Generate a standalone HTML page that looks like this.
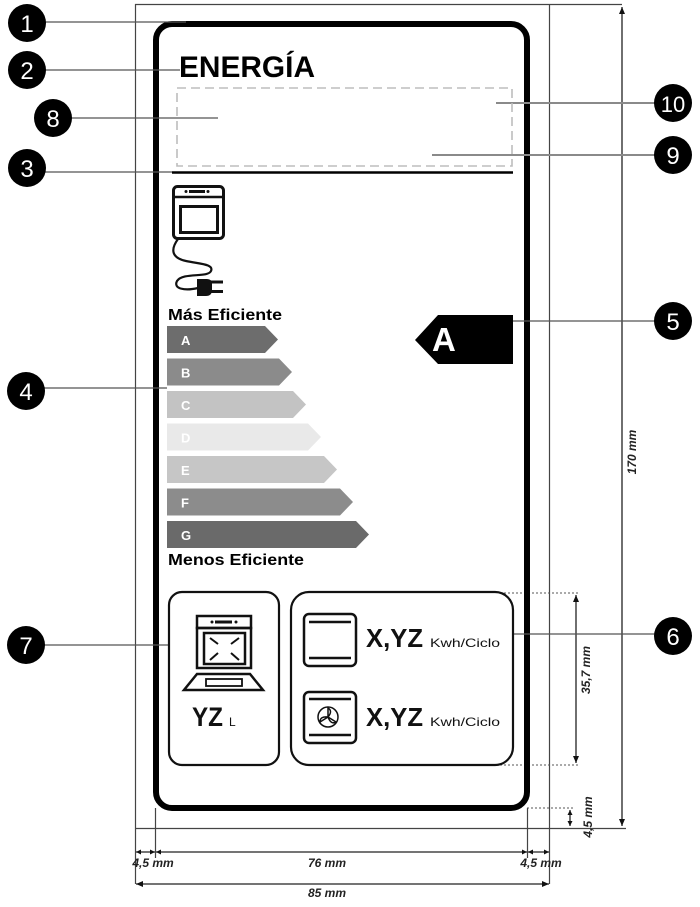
<!DOCTYPE html>
<html>
<head>
<meta charset="utf-8">
<style>
html,body{margin:0;padding:0;background:#fff;}
svg{display:block;}
</style>
</head>
<body>
<svg width="700" height="907" viewBox="0 0 700 907" xmlns="http://www.w3.org/2000/svg" font-family="'Liberation Sans', sans-serif">
<defs>
<marker id="ar" markerWidth="8" markerHeight="8" refX="7" refY="4" orient="auto-start-reverse" markerUnits="userSpaceOnUse">
<path d="M0,1 L7,4 L0,7 Z" fill="#111"/>
</marker>
<marker id="ars" markerWidth="6" markerHeight="6" refX="5" refY="3" orient="auto-start-reverse" markerUnits="userSpaceOnUse">
<path d="M0,0.5 L5,3 L0,5.5 Z" fill="#111"/>
</marker>
</defs>

<!-- outer thin frame / dimension lines -->
<g stroke="#444" stroke-width="1.2" fill="none">
<line x1="135" y1="4.5" x2="622" y2="4.5"/>
<line x1="135.5" y1="4" x2="135.5" y2="884"/>
<line x1="549.5" y1="4" x2="549.5" y2="884"/>
<line x1="135" y1="828.5" x2="626" y2="828.5"/>
<line x1="155.5" y1="808" x2="155.5" y2="858"/>
<line x1="527.5" y1="808" x2="527.5" y2="858"/>
</g>

<!-- 170 mm -->
<line x1="622" y1="7" x2="622" y2="826" stroke="#222" stroke-width="1.3" marker-start="url(#ar)" marker-end="url(#ar)"/>
<text transform="translate(636,452) rotate(-90)" text-anchor="middle" font-size="12" font-style="italic" font-weight="bold" fill="#222">170 mm</text>

<!-- 35,7 mm -->
<g stroke="#555" stroke-width="1" stroke-dasharray="2 2">
<line x1="500" y1="593" x2="580" y2="593"/>
<line x1="500" y1="765" x2="580" y2="765"/>
<line x1="527" y1="808" x2="574" y2="808"/>
</g>
<line x1="576" y1="595" x2="576" y2="763" stroke="#222" stroke-width="1.3" marker-start="url(#ar)" marker-end="url(#ar)"/>
<text transform="translate(590,670) rotate(-90)" text-anchor="middle" font-size="12" font-style="italic" font-weight="bold" fill="#222">35,7 mm</text>

<!-- 4,5 mm vertical -->
<line x1="570" y1="810" x2="570" y2="826" stroke="#222" stroke-width="1.3" marker-start="url(#ars)" marker-end="url(#ars)"/>
<text transform="translate(592,817) rotate(-90)" text-anchor="middle" font-size="12" font-style="italic" font-weight="bold" fill="#222">4,5 mm</text>

<!-- bottom dimensions -->
<g stroke="#222" stroke-width="1.3">
<line x1="136" y1="852" x2="155" y2="852" marker-start="url(#ars)" marker-end="url(#ars)"/>
<line x1="156" y1="852" x2="527" y2="852" marker-start="url(#ars)" marker-end="url(#ars)"/>
<line x1="528" y1="852" x2="549" y2="852" marker-start="url(#ars)" marker-end="url(#ars)"/>
<line x1="136" y1="884" x2="549" y2="884" marker-start="url(#ar)" marker-end="url(#ar)"/>
</g>
<g font-size="12" font-style="italic" font-weight="bold" fill="#222" text-anchor="middle">
<text x="153" y="867">4,5 mm</text>
<text x="327" y="867">76 mm</text>
<text x="541" y="867">4,5 mm</text>
<text x="327" y="897">85 mm</text>
</g>

<!-- main thick label frame -->
<rect x="156" y="24" width="371" height="784" rx="16" ry="16" fill="none" stroke="#000" stroke-width="6"/>

<!-- leader lines -->
<g stroke="#555" stroke-width="1.3">
<line x1="44" y1="22" x2="186" y2="22"/>
<line x1="44" y1="70" x2="180" y2="70"/>
<line x1="70" y1="118" x2="218" y2="118"/>
<line x1="44" y1="172" x2="172" y2="172"/>
<line x1="44" y1="388" x2="167" y2="388"/>
<line x1="44" y1="645" x2="169" y2="645"/>
<line x1="513" y1="321" x2="655" y2="321"/>
<line x1="513" y1="634" x2="655" y2="634"/>
</g>
<g stroke="#8a8a8a" stroke-width="2">
<line x1="496" y1="103" x2="655" y2="103"/>
<line x1="432" y1="155" x2="655" y2="155"/>
</g>

<!-- ENERGIA -->
<text x="179" y="77" font-size="30" font-weight="bold" fill="#000" textLength="136" lengthAdjust="spacingAndGlyphs">ENERGÍA</text>

<!-- dashed box -->
<rect x="177" y="88" width="335" height="78" fill="none" stroke="#bdbdbd" stroke-width="1.6" stroke-dasharray="9 5"/>
<!-- separator -->
<line x1="172" y1="172.5" x2="513" y2="172.5" stroke="#000" stroke-width="2.5"/>

<!-- oven with plug icon -->
<g fill="none" stroke="#111" stroke-width="3">
<rect x="173.5" y="186.5" width="50" height="52" rx="4"/>
<line x1="173.5" y1="197" x2="223.5" y2="197" stroke-width="2.5"/>
<rect x="180.5" y="206.5" width="37" height="26"/>
<path d="M178,239 C170,250 172,258 186,261 C200,264 214,264 211,271 C208,278 183,272 177,281 C173,289 185,291 198,288" stroke-width="2.2"/>
</g>
<g fill="#111">
<rect x="189" y="190" width="16" height="3"/>
<circle cx="186" cy="191.5" r="1.5"/>
<circle cx="208" cy="191.5" r="1.5"/>
<path d="M197,279 L207,279 Q212,279 212,284 L212,290 Q212,296 206,296 L197,296 Z"/>
<rect x="210" y="280.5" width="13" height="3"/>
<rect x="210" y="290" width="13" height="3"/>
</g>

<!-- efficiency scale -->
<text x="168" y="320" font-size="16" font-weight="bold" fill="#000" textLength="114" lengthAdjust="spacingAndGlyphs">Más Eficiente</text>
<g>
<polygon points="167,326 265,326 278,339.5 265,353 167,353" fill="#6d6d6d"/>
<polygon points="167,358.5 279,358.5 292,372 279,385.5 167,385.5" fill="#8b8b8b"/>
<polygon points="167,391 293,391 306,404.5 293,418 167,418" fill="#c3c3c3"/>
<polygon points="167,423.5 308,423.5 321,437 308,450.5 167,450.5" fill="#e9e9e9"/>
<polygon points="167,456 324,456 337,469.5 324,483 167,483" fill="#c6c6c6"/>
<polygon points="167,488.5 340,488.5 353,502 340,515.5 167,515.5" fill="#8c8c8c"/>
<polygon points="167,521 356,521 369,534.5 356,548 167,548" fill="#6a6a6a"/>
</g>
<g font-size="13" font-weight="bold" fill="#fff">
<text x="181" y="345">A</text>
<text x="181" y="377.5">B</text>
<text x="181" y="410">C</text>
<text x="181" y="442.5">D</text>
<text x="181" y="475">E</text>
<text x="181" y="507.5">F</text>
<text x="181" y="540">G</text>
</g>
<text x="168" y="565" font-size="16" font-weight="bold" fill="#000" textLength="136" lengthAdjust="spacingAndGlyphs">Menos Eficiente</text>

<!-- A indicator -->
<polygon points="415,340 438,315 513,315 513,364 438,364" fill="#000"/>
<text x="432" y="351" font-size="33" font-weight="bold" fill="#fff">A</text>

<!-- box 7 -->
<rect x="169" y="592" width="110" height="173" rx="13" fill="none" stroke="#111" stroke-width="2.2"/>
<g fill="none" stroke="#111" stroke-width="2.5">
<rect x="197" y="616" width="54" height="12"/>
<rect x="197" y="628" width="54" height="40"/>
<rect x="204" y="633" width="41" height="31"/>
<polygon points="184,690 263,690 250,674 197,674"/>
<rect x="206" y="679" width="36" height="7" stroke-width="1.8"/>
</g>
<g stroke="#111" stroke-width="2">
<line x1="210" y1="638" x2="218" y2="644"/>
<line x1="239" y1="638" x2="231" y2="644"/>
<line x1="210" y1="660" x2="218" y2="653"/>
<line x1="239" y1="660" x2="231" y2="653"/>
</g>
<g fill="#111">
<circle cx="212" cy="622" r="1.5"/>
<rect x="215" y="620.5" width="17" height="3"/>
<circle cx="236" cy="622" r="1.5"/>
</g>
<text x="192" y="726" font-size="27" font-weight="bold" fill="#111" textLength="31" lengthAdjust="spacingAndGlyphs">YZ</text>
<text x="229" y="726" font-size="12" fill="#111">L</text>

<!-- box 6 -->
<rect x="291" y="592" width="222" height="173" rx="18" fill="none" stroke="#111" stroke-width="2.2"/>
<g fill="none" stroke="#111" stroke-width="2.5">
<rect x="304" y="614" width="52" height="52" rx="5"/>
<line x1="309" y1="622" x2="351" y2="622"/>
<line x1="309" y1="658" x2="351" y2="658"/>
<rect x="304" y="692" width="52" height="51" rx="5"/>
<line x1="309" y1="699" x2="351" y2="699"/>
<line x1="309" y1="735" x2="351" y2="735"/>
</g>
<g fill="none" stroke="#111" stroke-width="1.5">
<circle cx="328" cy="717" r="10"/>
<path d="M328,717 L328,708 Q333,711 328,717"/>
<path d="M328,717 L320,722 Q320,716 328,717"/>
<path d="M328,717 L336,722 Q331,725 328,717"/>
</g>
<g fill="#111">
<text x="366" y="647" font-size="26" font-weight="bold" textLength="57" lengthAdjust="spacingAndGlyphs">X,YZ</text>
<text x="430" y="647" font-size="12" textLength="70" lengthAdjust="spacingAndGlyphs">Kwh/Ciclo</text>
<text x="366" y="726" font-size="26" font-weight="bold" textLength="57" lengthAdjust="spacingAndGlyphs">X,YZ</text>
<text x="430" y="726" font-size="12" textLength="70" lengthAdjust="spacingAndGlyphs">Kwh/Ciclo</text>
</g>

<!-- numbered circles -->
<g fill="#000">
<circle cx="27" cy="23" r="19"/>
<circle cx="27" cy="70" r="19"/>
<circle cx="53" cy="118" r="19"/>
<circle cx="27" cy="168" r="19"/>
<circle cx="26" cy="391" r="19"/>
<circle cx="26" cy="645" r="19"/>
<circle cx="673" cy="103" r="19"/>
<circle cx="673" cy="155" r="19"/>
<circle cx="673" cy="321" r="19"/>
<circle cx="673" cy="636" r="19"/>
</g>
<g fill="#fff" font-size="24" text-anchor="middle">
<text x="27" y="32">1</text>
<text x="27" y="79">2</text>
<text x="53" y="127">8</text>
<text x="27" y="177">3</text>
<text x="26" y="400">4</text>
<text x="26" y="654">7</text>
<text x="673" y="112" font-size="22">10</text>
<text x="673" y="164">9</text>
<text x="673" y="330">5</text>
<text x="673" y="645">6</text>
</g>
</svg>
</body>
</html>
